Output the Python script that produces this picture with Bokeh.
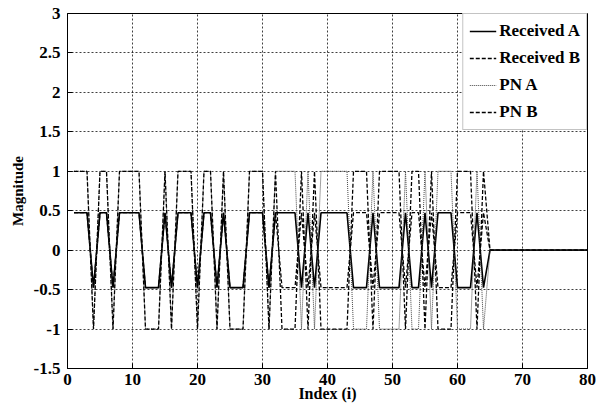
from bokeh.plotting import figure
from bokeh.models import Range1d, FixedTicker, Legend, LegendItem, NumeralTickFormatter
from bokeh.embed import file_html
from bokeh.resources import INLINE

# ---- data ----
idx = list(range(1, 81))

pn_a = [1, 1, 1, -1, 1, 1, -1, 1, 1, 1, 1, -1, -1, -1, 1, -1, 1, 1, 1, -1,
        1, 1, -1, 1, -1, -1, -1, 1, 1, 1, -1, 1, 1, 1,
        1, -1, 1, -1, 1, 1, 1, 1, 1, -1, -1, -1, 1, -1, -1, -1, -1, 1, -1, -1,
        1, -1, 1, 1, 1, -1, -1, -1, 1, -1,
        0, 0, 0, 0, 0, 0, 0, 0, 0, 0, 0, 0, 0, 0, 0, 0]

pn_b = [1, 1, 1, -1, 1, 1, -1, 1, 1, 1, 1, -1, -1, -1, 1, -1, 1, 1, 1, -1,
        1, 1, -1, 1, -1, -1, -1, 1, 1, 1, -1, 1,
        -1, -1, -1, 1, -1, 1, -1, -1, -1, -1, -1, 1, 1, 1, -1, 1, 1, 1, 1, -1,
        1, 1, -1, 1, -1, -1, -1, 1, 1, 1, -1, 1,
        0, 0, 0, 0, 0, 0, 0, 0, 0, 0, 0, 0, 0, 0, 0, 0]

received_a = [.475, .475, .475, -.475, .475, .475, -.475, .475, .475, .475, .475, -.475, -.475, -.475, .475, -.475, .475, .475, .475, -.475,
              .475, .475, -.475, .475, -.475, -.475, -.475, .475, .475, .475, -.475, .475, .475, .475,
              .475, -.475, .475, -.475, .475, .475, .475, .475, .475, -.475, -.475, -.475, .475, -.475, -.475, -.475, -.475, .475, -.475, -.475,
              .475, -.475, .475, .475, .475, -.475, -.475, -.475, .475, -.475,
              0, 0, 0, 0, 0, 0, 0, 0, 0, 0, 0, 0, 0, 0, 0, 0]

received_b = [.475, .475, .475, -.475, .475, .475, -.475, .475, .475, .475, .475, -.475, -.475, -.475, .475, -.475, .475, .475, .475, -.475,
              .475, .475, -.475, .475, -.475, -.475, -.475, .475, .475, .475, -.475, .475,
              -.475, -.475, -.475, .475, -.475, .475, -.475, -.475, -.475, -.475, -.475, .475, .475, .475, -.475, .475, .475, .475, .475, -.475,
              .475, .475, -.475, .475, -.475, -.475, -.475, .475, .475, .475, -.475, .475,
              0, 0, 0, 0, 0, 0, 0, 0, 0, 0, 0, 0, 0, 0, 0, 0]

x_ticks = [0, 10, 20, 30, 40, 50, 60, 70, 80]
y_ticks = [-1.5, -1, -0.5, 0, 0.5, 1, 1.5, 2, 2.5, 3]

FONT = "Liberation Serif"

p = figure(width=611, height=408, output_backend="svg", toolbar_location=None,
           x_range=Range1d(0, 80), y_range=Range1d(-1.5, 3),
           min_border_left=67, min_border_right=24, min_border_top=13, min_border_bottom=40,
           background_fill_color="white", border_fill_color="white")

r1 = p.line(idx, received_a, line_color="black", line_width=1.6)
r2 = p.line(idx, received_b, line_color="black", line_width=1.3, line_dash="4 2")
r3 = p.line(idx, pn_a, line_color="#444444", line_width=1.0, line_dash="1 1")
r4 = p.line(idx, pn_b, line_color="black", line_width=1.3, line_dash="4 2")

p.xaxis.ticker = FixedTicker(ticks=x_ticks)
p.yaxis.ticker = FixedTicker(ticks=y_ticks)
p.yaxis.formatter = NumeralTickFormatter(format="0.[0]")
p.xgrid.ticker = FixedTicker(ticks=x_ticks)
p.ygrid.ticker = FixedTicker(ticks=y_ticks)

for g in (p.xgrid, p.ygrid):
    g.grid_line_color = "black"
    g.grid_line_alpha = 0.75
    g.grid_line_dash = "2 2"
    g.grid_line_width = 1

for ax in (p.xaxis, p.yaxis):
    ax.major_tick_in = 5
    ax.major_tick_out = 0
    ax.minor_tick_line_color = None
    ax.axis_line_color = "black"
    ax.major_tick_line_color = "black"
    ax.major_label_text_font = FONT
    ax.major_label_text_font_style = "bold"
    ax.major_label_text_font_size = "17px"
    ax.major_label_text_color = "black"
    ax.axis_label_text_font = FONT
    ax.axis_label_text_font_style = "bold"
    ax.axis_label_text_color = "black"

p.xaxis.axis_label = "Index (i)"
p.yaxis.axis_label = "Magnitude"
p.xaxis.axis_label_text_font_size = "16px"
p.yaxis.axis_label_text_font_size = "15px"
p.xaxis.major_label_standoff = 5
p.xaxis.axis_label_standoff = -3
p.yaxis.major_label_standoff = 7
p.yaxis.axis_label_standoff = 5

p.outline_line_color = "black"
p.outline_line_width = 1
p.outline_line_alpha = 1

legend = Legend(items=[
    LegendItem(label="Received A", renderers=[r1]),
    LegendItem(label="Received B", renderers=[r2]),
    LegendItem(label="PN A", renderers=[r3]),
    LegendItem(label="PN B", renderers=[r4]),
], location="top_right")
legend.margin = 0
legend.padding = 6
legend.spacing = 5
legend.label_height = 22
legend.glyph_height = 22
legend.glyph_width = 27
legend.label_standoff = 3
legend.border_line_color = "#888888"
legend.border_line_width = 1
legend.background_fill_color = "white"
legend.background_fill_alpha = 1
legend.label_text_font = FONT
legend.label_text_font_style = "bold"
legend.label_text_font_size = "17px"
legend.label_text_color = "black"
p.add_layout(legend)

open("out.html", "w").write(file_html(p, INLINE))
